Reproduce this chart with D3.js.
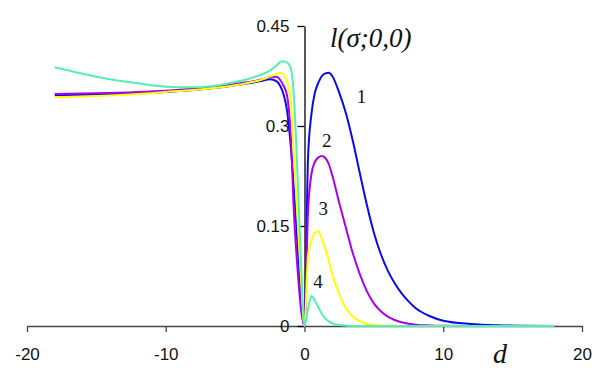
<!DOCTYPE html>
<html>
<head>
<meta charset="utf-8">
<script src="https://cdn.jsdelivr.net/npm/d3@7"></script>
<style>
  body { margin: 0; background: #fff; }
  .tick text { font-family: "Liberation Sans", Arial, sans-serif; font-size: 17px; fill: #111; }
  .serif { font-family: "Liberation Serif", "Times New Roman", serif; fill: #111; }
</style>
</head>
<body>
<svg width="609" height="379"></svg>
<script>
// d values shared by all four curves
var dGrid = [-18, -15, -12, -10, -8, -6, -5, -4, -3, -2.5, -2, -1.75, -1.5, -1.25, -1, -0.75, -0.5, -0.25, 0,
             0.25, 0.5, 0.75, 1, 1.25, 1.5, 1.75, 2, 2.5, 3, 3.5, 4, 4.5, 5, 5.5, 6, 6.5, 7, 7.5, 8, 9, 10, 12, 14, 16, 18];

var curve1 = [0.346, 0.347, 0.349, 0.351, 0.354, 0.358, 0.361, 0.364, 0.368, 0.370, 0.367, 0.360, 0.347, 0.322, 0.272, 0.205, 0.120, 0.035, 0,
              0.25, 0.318, 0.350, 0.365, 0.375, 0.379, 0.380, 0.375, 0.350, 0.318, 0.276, 0.228, 0.181, 0.140, 0.108, 0.083, 0.064, 0.049, 0.037, 0.027, 0.015, 0.008, 0.003, 0.001, 0.0003, 0];
var curve2 = [0.348, 0.349, 0.351, 0.353, 0.356, 0.360, 0.363, 0.366, 0.370, 0.373, 0.374, 0.369, 0.360, 0.345, 0.290, 0.165, 0.085, 0.025, 0,
              0.17, 0.228, 0.246, 0.253, 0.255, 0.252, 0.243, 0.226, 0.185, 0.146, 0.108, 0.077, 0.052, 0.034, 0.022, 0.014, 0.009, 0.0055, 0.0035, 0.002, 0.0008, 0.0003, 0, 0, 0, 0];
var curve3 = [0.343, 0.345, 0.348, 0.351, 0.354, 0.358, 0.361, 0.365, 0.370, 0.374, 0.378, 0.380, 0.377, 0.366, 0.340, 0.250, 0.160, 0.070, 0,
              0.105, 0.128, 0.140, 0.142, 0.130, 0.116, 0.098, 0.078, 0.048, 0.026, 0.014, 0.007, 0.0035, 0.0015, 0.0008, 0.0004, 0.0002, 0.0001, 0, 0, 0, 0, 0, 0, 0, 0];
var curve4 = [0.388, 0.374, 0.364, 0.359, 0.358, 0.362, 0.366, 0.371, 0.378, 0.383, 0.391, 0.396, 0.397, 0.395, 0.388, 0.340, 0.225, 0.095, 0,
              0.025, 0.045, 0.038, 0.028, 0.018, 0.011, 0.007, 0.004, 0.0015, 0.0005, 0, 0, 0, 0, 0, 0, 0, 0, 0, 0, 0, 0, 0, 0, 0, 0];

var xTicks = [-20, -10, 0, 10, 20];
var yTicks = [0, 0.15, 0.3, 0.45];
var yTickLabels = ["0", "0.15", "0.3", "0.45"];
var curveNames = ["1", "2", "3", "4"];
var colors = ["#0a0aee", "#aa00ee", "#ffff00", "#55f0b0"];
// where the curve numbers sit (d, value)
var nameSpots = [[4.1, 0.335], [1.6, 0.269], [1.35, 0.167], [0.98, 0.057]];

var svg = d3.select("svg");
var x = d3.scaleLinear().domain([-20, 20]).range([27, 582]);
var y = d3.scaleLinear().domain([0, 0.45]).range([326, 26]);

// x axis
var gx = svg.append("g")
    .attr("transform", "translate(0," + y(0) + ")")
    .call(d3.axisBottom(x).tickValues(xTicks).tickSize(6).tickSizeOuter(0).tickPadding(16)
        .tickFormat(function(d) { return String(d); }));
gx.select(".domain").attr("stroke", "#444").attr("stroke-width", 1.3);
gx.selectAll(".tick line").attr("stroke", "#444").attr("stroke-width", 1.3);

// y axis
var gy = svg.append("g")
    .attr("transform", "translate(" + x(0) + ",0)")
    .call(d3.axisLeft(y).tickValues(yTicks).tickSize(7).tickSizeOuter(0).tickPadding(8)
        .tickFormat(function(d, i) { return yTickLabels[i]; }));
gy.select(".domain").attr("stroke", "#000").attr("stroke-width", 1.3);
gy.selectAll(".tick line").attr("stroke", "#000").attr("stroke-width", 1.3);

var line = d3.line()
    .x(function(d) { return x(d[0]); })
    .y(function(d) { return y(d[1]); })
    .curve(d3.curveMonotoneX);

var series = [curve1, curve2, curve3, curve4];
series.forEach(function(vals, i) {
    svg.append("path")
        .datum(dGrid.map(function(d, j) { return [d, vals[j]]; }))
        .attr("fill", "none")
        .attr("stroke", colors[i])
        .attr("stroke-width", 2)
        .attr("d", line);
});

// curve numbers
svg.selectAll(".name")
    .data(curveNames)
    .enter()
    .append("text")
    .attr("class", "serif")
    .attr("x", function(d, i) { return x(nameSpots[i][0]); })
    .attr("y", function(d, i) { return y(nameSpots[i][1]); })
    .attr("text-anchor", "middle")
    .style("font-size", "19px")
    .text(function(d) { return d; });

// axis titles
svg.append("text")
    .attr("class", "serif")
    .attr("x", 330).attr("y", 47)
    .style("font-style", "italic")
    .style("font-size", "27px")
    .text("l(σ;0,0)");

svg.append("text")
    .attr("class", "serif")
    .attr("x", 493).attr("y", 363)
    .style("font-style", "italic")
    .style("font-size", "28px")
    .text("d");
</script>
</body>
</html>
